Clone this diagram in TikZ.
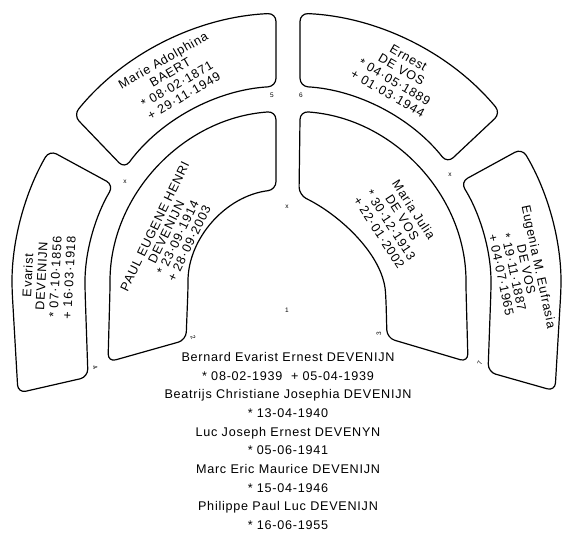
\documentclass[tikz,border=0pt]{standalone}
\usepackage{fontspec}
\setmainfont{Liberation Sans}[LetterSpace=6]
\begin{document}
\begin{tikzpicture}[x=1pt,y=1pt,
  boxline/.style={draw=black, line width=1.2pt, rounded corners=8pt},
  boxtext/.style={font=\fontsize{12.6}{13.8}\selectfont, align=center, inner sep=0pt},
  listtext/.style={font=\fontsize{12.6}{18.7}\selectfont, align=center, inner sep=0pt},
  tiny/.style={font=\fontsize{6.5}{7}\selectfont, inner sep=0pt}]
\useasboundingbox (0,0) rectangle (563,-533);
\begin{scope}[shift={(288,-289)}]
% generation 2
\draw[boxline] (-102,-51) -- (180:100) arc[start angle=180, end angle=96.9, radius=100]
  -- (93.9:178) arc[start angle=93.9, end angle=180, radius=178] -- (-180,-73) -- cycle;
\draw[boxline] (99,-49) -- (98,-11) .. controls (95,34) and (52,74) .. (11,94)
  -- (86.1:178) arc[start angle=86.1, end angle=0, radius=178] -- (180,-73) -- cycle;
% generation 3
\draw[boxline] (93.4:203) arc[start angle=93.4, end angle=143.6, radius=203]
  -- (141:276) arc[start angle=141, end angle=92.5, radius=276] -- cycle;
\draw[boxline] (86.6:203) arc[start angle=86.6, end angle=38.3, radius=203]
  -- (39.6:276) arc[start angle=39.6, end angle=87.5, radius=276] -- cycle;
\draw[boxline] (149.2:203) arc[start angle=149.2, end angle=180, radius=203]
  -- (-200,-88) -- (-270,-104) -- (180:276) arc[start angle=180, end angle=149.8, radius=276] -- cycle;
\draw[boxline] (31.8:203) arc[start angle=31.8, end angle=0, radius=203]
  -- (200,-83) -- (267,-102) -- (0:273) arc[start angle=0, end angle=31, radius=273] -- cycle;
% texts
\node[boxtext, rotate=30] (marie) at (118.5:240) {Marie Adolphina\\BAERT\\* 08·02·1871\\+ 29·11·1949};
\node[boxtext, rotate=-30] (ernest) at (62.7:240) {Ernest\\DE VOS\\* 04·05·1889\\+ 01·03·1944};
\node[boxtext, rotate=87] (evarist) at (177:240) {Evarist\\DEVENIJN\\* 07·10·1856\\+ 16·03·1918};
\node[boxtext, rotate=-78, font=\fontsize{12.6}{12.8}\selectfont] (eugenia) at (4.5:233) {Eugenia M. Eufrasia\\DE VOS\\* 19·11·1887\\+ 04·07·1965};
\node[boxtext, rotate=64, font=\fontsize{12.6}{12.8}\selectfont] (paul) at (155:128) {PAUL EUGENE HENRI\\DEVENIJN\\* 23·09·1914\\+ 28·09·2003};
\node[boxtext, rotate=-57] (maria) at (32:128) {Maria Julia\\DE VOS\\* 30·12·1913\\+ 22·01·2002};
% small numbers
\node[tiny] (n1) at (-1,-21) {1};
\node[tiny] (nx) at (-1,82) {x};
\node[tiny, rotate=-70] (n2) at (-95,-48) {2};
\node[tiny, rotate=90] (n3) at (91,-45) {3};
\node[tiny, rotate=-70] (n4) at (-193,-78) {4};
\node[tiny] (n5) at (-16,194) {5};
\node[tiny] (n6) at (13,194) {6};
\node[tiny, rotate=70] (n7) at (192,-74) {7};
\node[tiny] (mx1) at (-163,107) {x};
\node[tiny] (mx2) at (162,114) {x};
\end{scope}
\node[listtext] (children) at (288,-441) {Bernard Evarist Ernest DEVENIJN\\
* 08-02-1939 \ + 05-04-1939\\
Beatrijs Christiane Josephia DEVENIJN\\
* 13-04-1940\\
Luc Joseph Ernest DEVENYN\\
* 05-06-1941\\
Marc Eric Maurice DEVENIJN\\
* 15-04-1946\\
Philippe Paul Luc DEVENIJN\\
* 16-06-1955};
\end{tikzpicture}
\end{document}
